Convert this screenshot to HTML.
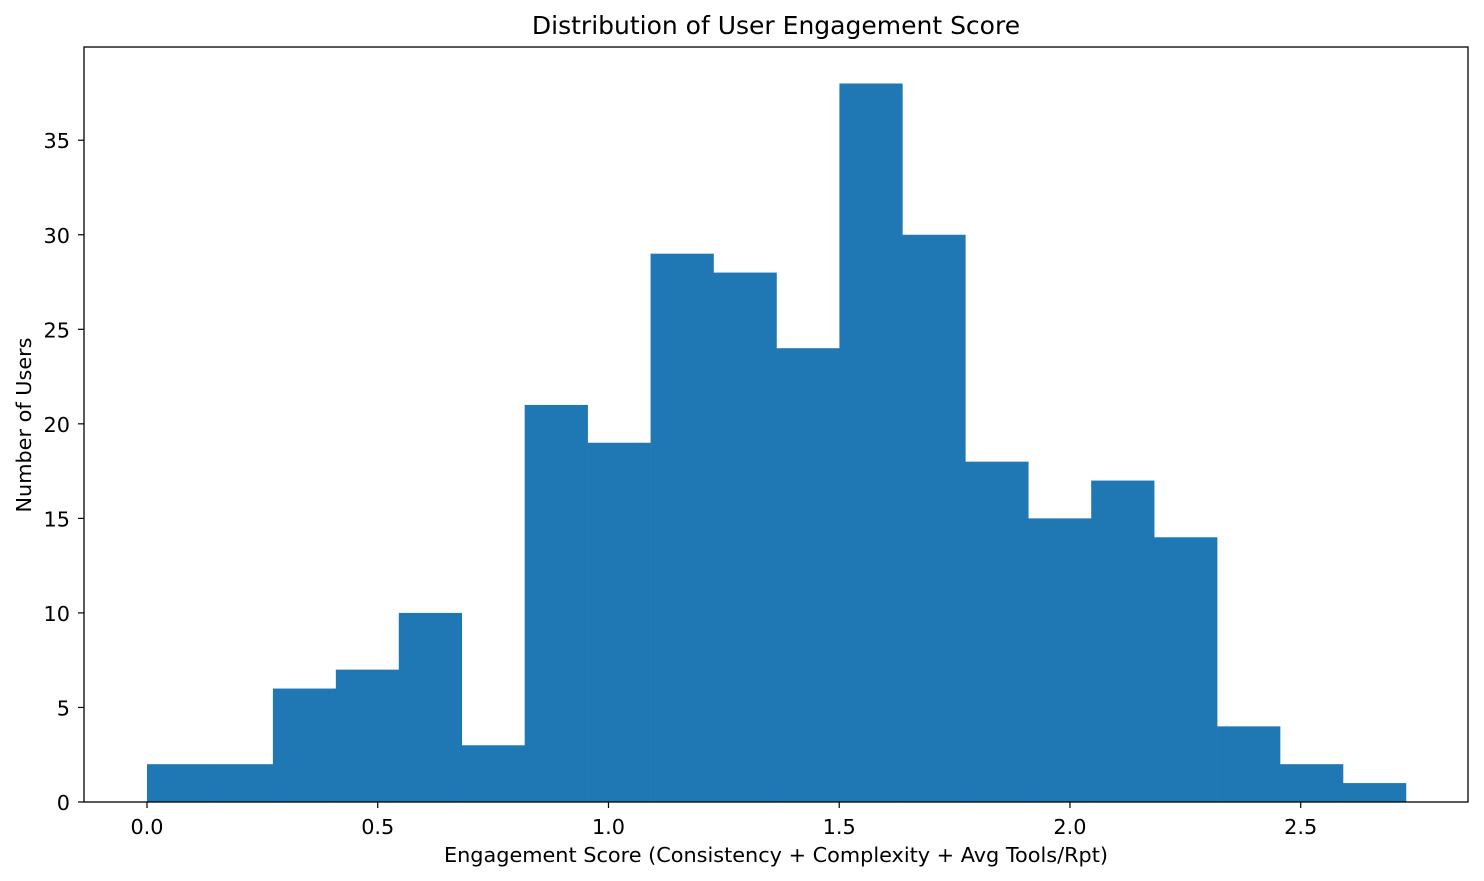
<!DOCTYPE html>
<html>
<head>
<meta charset="utf-8">
<style>
  html, body { margin: 0; padding: 0; background: #fff; }
  svg { display: block; font-family: "DejaVu Sans", "Liberation Sans", sans-serif; }
</style>
</head>
<body>
<svg id="chart" width="1484" height="881" viewBox="0 0 1484 881">
  <text x="776" y="34" text-anchor="middle" font-size="25" fill="#000">Distribution of User Engagement Score</text>
  <g id="bars"></g>
  <g id="xticks"></g>
  <g id="yticks"></g>
  <rect x="84" y="47" width="1384" height="755" fill="none" stroke="#000" stroke-width="1.3"></rect>
  <text x="776" y="862" text-anchor="middle" font-size="20.8" fill="#000">Engagement Score (Consistency + Complexity + Avg Tools/Rpt)</text>
  <text transform="translate(31,425) rotate(-90)" text-anchor="middle" font-size="20.8" fill="#000">Number of Users</text>
</svg>
<script>
const binStart = 0;
const binEnd = 2.728;
const counts = [2, 2, 6, 7, 10, 3, 21, 19, 29, 28, 24, 38, 30, 18, 15, 17, 14, 4, 2, 1];
const xTickValues = [0.0, 0.5, 1.0, 1.5, 2.0, 2.5];
const xTickLabels = ["0.0", "0.5", "1.0", "1.5", "2.0", "2.5"];
const yTickValues = [0, 5, 10, 15, 20, 25, 30, 35];

const plot = { left: 84, right: 1468, top: 47, bottom: 802 };
const xMin = -0.1365, xMax = 2.8625, yMin = 0, yMax = 39.93;
function xScale(v) { return plot.left + (v - xMin) / (xMax - xMin) * (plot.right - plot.left); }
function yScale(v) { return plot.bottom - (v - yMin) / (yMax - yMin) * (plot.bottom - plot.top); }

const NS = "http://www.w3.org/2000/svg";
const barsG = document.getElementById("bars");
const w = (binEnd - binStart) / counts.length;
counts.forEach((c, i) => {
  const x0 = xScale(binStart + i * w), x1 = xScale(binStart + (i + 1) * w);
  const r = document.createElementNS(NS, "rect");
  r.setAttribute("x", x0);
  r.setAttribute("y", yScale(c));
  r.setAttribute("width", x1 - x0 + 0.3);
  r.setAttribute("height", yScale(0) - yScale(c));
  r.setAttribute("fill", "#1f77b4");
  
  
  barsG.appendChild(r);
});

const xg = document.getElementById("xticks");
xTickValues.forEach((v, i) => {
  const x = xScale(v);
  const l = document.createElementNS(NS, "line");
  l.setAttribute("x1", x); l.setAttribute("x2", x);
  l.setAttribute("y1", plot.bottom); l.setAttribute("y2", plot.bottom + 6);
  l.setAttribute("stroke", "#000"); l.setAttribute("stroke-width", "1.2");
  
  
  xg.appendChild(l);
  const t = document.createElementNS(NS, "text");
  t.setAttribute("x", x); t.setAttribute("y", 834);
  t.setAttribute("text-anchor", "middle"); t.setAttribute("font-size", "20.8");
  t.textContent = xTickLabels[i];
  
  
  xg.appendChild(t);
});

const yg = document.getElementById("yticks");
yTickValues.forEach(v => {
  const y = yScale(v);
  const l = document.createElementNS(NS, "line");
  l.setAttribute("x1", plot.left - 6); l.setAttribute("x2", plot.left);
  l.setAttribute("y1", y); l.setAttribute("y2", y);
  l.setAttribute("stroke", "#000"); l.setAttribute("stroke-width", "1.2");
  
  
  yg.appendChild(l);
  const t = document.createElementNS(NS, "text");
  t.setAttribute("x", 70); t.setAttribute("y", y + 8);
  t.setAttribute("text-anchor", "end"); t.setAttribute("font-size", "20.8");
  t.textContent = String(v);
  
  
  yg.appendChild(t);
});
</script>
</body>
</html>
